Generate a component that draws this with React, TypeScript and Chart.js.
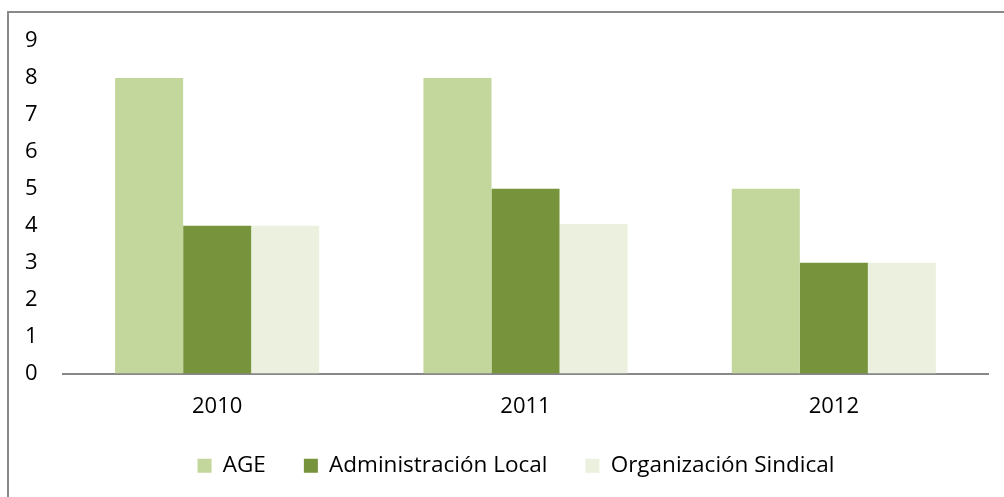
import React, { useEffect, useRef } from "react";
import { Chart, registerables } from "chart.js";

Chart.register(...registerables);

const categories = ["2010", "2011", "2012"];
const seriesNames = ["AGE", "Administración Local", "Organización Sindical"];
const ageValues = [8, 8, 5];
const adminLocalValues = [4, 5, 3];
const sindicalValues = [4, 4.05, 3];
const seriesColors = ["#C3D69B", "#77933C", "#EBF1DE"];

export default function App() {
  const canvasRef = useRef<HTMLCanvasElement | null>(null);

  useEffect(() => {
    if (!canvasRef.current) return;
    const family = "'Open Sans', 'Noto Sans', sans-serif";
    const tickFont = { family, size: 22 };
    const legendFont = { family, size: 22.5 };
    const chart = new Chart(canvasRef.current, {
      type: "bar",
      data: {
        labels: categories,
        datasets: [
          { label: seriesNames[0], data: ageValues, backgroundColor: seriesColors[0] },
          { label: seriesNames[1], data: adminLocalValues, backgroundColor: seriesColors[1] },
          { label: seriesNames[2], data: sindicalValues, backgroundColor: seriesColors[2] },
        ],
      },
      options: {
        animation: false,
        responsive: false,
        maintainAspectRatio: false,
        datasets: {
          bar: { categoryPercentage: 0.662, barPercentage: 1 },
        },
        layout: { padding: { top: 41, left: 44, right: 16, bottom: 10 } },
        plugins: {
          tooltip: { enabled: false },
          legend: {
            position: "bottom",
            labels: {
              font: legendFont,
              color: "#000",
              boxWidth: 14,
              boxHeight: 14,
              padding: 38,
            },
          },
        },
        scales: {
          x: {
            grid: { display: false, drawTicks: false },
            border: { display: true, color: "#878787", width: 2 },
            ticks: { font: tickFont, color: "#000", padding: 20 },
            afterFit: (s: any) => {
              s.height = 43;
            },
          },
          y: {
            min: 0,
            max: 9,
            grid: { display: false, drawTicks: false },
            border: { display: false },
            ticks: {
              font: tickFont,
              color: "#000",
              stepSize: 1,
              mirror: true,
              crossAlign: "far",
              padding: -38,
            },
            afterFit: (s: any) => {
              s.width = 19;
            },
          },
        },
      },
    });
    return () => chart.destroy();
  }, []);

  return (
    <div
      style={{
        position: "fixed",
        left: 0,
        top: 0,
        width: 1004,
        height: 497,
        overflow: "hidden",
        background: "#fff",
      }}
    >
      <div
        style={{
          position: "absolute",
          left: 7,
          top: 11,
          width: 1100,
          height: 600,
          border: "2px solid #898989",
          boxSizing: "border-box",
        }}
      />
      <canvas
        ref={canvasRef}
        width={1004}
        height={497}
        style={{ position: "absolute", left: 0, top: 0, width: 1004, height: 497 }}
      />
    </div>
  );
}
